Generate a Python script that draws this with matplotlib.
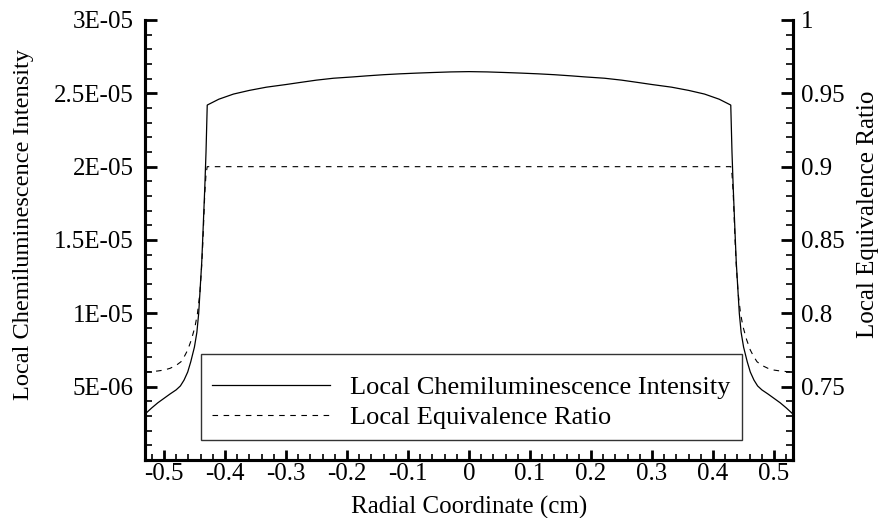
import matplotlib
matplotlib.use("Agg")
import matplotlib.pyplot as plt
from matplotlib.ticker import MultipleLocator, FixedLocator

plt.rcParams['font.family'] = ['Liberation Serif', 'DejaVu Serif']

# Radial coordinate (cm) and local chemiluminescence intensity
r_int = [-0.531, -0.520, -0.510, -0.500, -0.490, -0.480, -0.473, -0.467, -0.461, -0.456,
         -0.450, -0.446, -0.443, -0.441, -0.438, -0.436, -0.433, -0.431, -0.429,
         -0.410, -0.386, -0.360, -0.332, -0.300, -0.277, -0.250, -0.222, -0.190, -0.168,
         -0.140, -0.113, -0.085, -0.059, -0.030, 0.0,
         0.030, 0.059, 0.085, 0.113, 0.140, 0.168, 0.190, 0.222, 0.250, 0.277,
         0.300, 0.332, 0.360, 0.386, 0.410,
         0.429, 0.431, 0.433, 0.436, 0.438, 0.441, 0.443, 0.446, 0.450,
         0.456, 0.461, 0.467, 0.473, 0.480, 0.490, 0.500, 0.510, 0.520, 0.531]
intensity = [3.13e-6, 3.55e-6, 3.90e-6, 4.20e-6, 4.50e-6, 4.78e-6, 5.05e-6, 5.45e-6, 6.00e-6, 6.70e-6,
             7.70e-6, 8.70e-6, 1.00e-5, 1.14e-5, 1.35e-5, 1.55e-5, 1.86e-5, 2.10e-5, 2.42e-5,
             2.460e-5, 2.495e-5, 2.520e-5, 2.542e-5, 2.560e-5, 2.574e-5, 2.590e-5, 2.603e-5, 2.612e-5, 2.619e-5,
             2.627e-5, 2.633e-5, 2.638e-5, 2.642e-5, 2.646e-5, 2.648e-5,
             2.646e-5, 2.642e-5, 2.638e-5, 2.633e-5, 2.627e-5, 2.619e-5, 2.612e-5, 2.603e-5, 2.590e-5, 2.574e-5,
             2.560e-5, 2.542e-5, 2.520e-5, 2.495e-5, 2.460e-5,
             2.42e-5, 2.10e-5, 1.86e-5, 1.55e-5, 1.35e-5, 1.14e-5, 1.00e-5, 8.70e-6, 7.70e-6,
             6.70e-6, 6.00e-6, 5.45e-6, 5.05e-6, 4.78e-6, 4.50e-6, 4.20e-6, 3.90e-6, 3.55e-6, 3.13e-6]

# Radial coordinate (cm) and local equivalence ratio
r_phi = [-0.531, -0.520, -0.510, -0.500, -0.490, -0.480, -0.472, -0.466, -0.461, -0.455,
         -0.449, -0.445, -0.441, -0.438, -0.436, -0.433, -0.431, -0.429,
         0.429, 0.431, 0.433, 0.436, 0.438, 0.441, 0.445, 0.449,
         0.455, 0.461, 0.466, 0.472, 0.480, 0.490, 0.500, 0.510, 0.520, 0.531]
phi = [0.7600, 0.7603, 0.7607, 0.7613, 0.7625, 0.7645, 0.7670, 0.7710, 0.7750, 0.7820,
       0.7910, 0.8000, 0.8140, 0.8330, 0.8500, 0.8820, 0.8950, 0.9000,
       0.9000, 0.8950, 0.8820, 0.8500, 0.8330, 0.8140, 0.8000, 0.7910,
       0.7820, 0.7750, 0.7710, 0.7670, 0.7645, 0.7625, 0.7613, 0.7607, 0.7603, 0.7600]

x_ticks = [-0.5, -0.4, -0.3, -0.2, -0.1, 0, 0.1, 0.2, 0.3, 0.4, 0.5]
x_tick_labels = ["-0.5", "-0.4", "-0.3", "-0.2", "-0.1", "0", "0.1", "0.2", "0.3", "0.4", "0.5"]
yl_ticks = [5e-6, 1e-5, 1.5e-5, 2e-5, 2.5e-5, 3e-5]
yl_tick_labels = ["5E-06", "1E-05", "1.5E-05", "2E-05", "2.5E-05", "3E-05"]
yr_ticks = [0.75, 0.8, 0.85, 0.9, 0.95, 1.0]
yr_tick_labels = ["0.75", "0.8", "0.85", "0.9", "0.95", "1"]

fig = plt.figure(figsize=(8.83, 5.18), dpi=100)
ax = fig.add_axes([145/883, 1-460/518, (793-145)/883, 440/518])
ax2 = ax.twinx()

l1, = ax.plot(r_int, intensity, color='black', lw=0.9, label='Local Chemiluminescence Intensity')
l2, = ax2.plot(r_phi, phi, color='black', lw=0.8, linestyle=(0, (5, 5)), label='Local Equivalence Ratio')

ax.set_xlim(-0.531, 0.531)
ax.set_ylim(0, 3e-5)
ax2.set_ylim(0.7, 1.0)

for a in (ax, ax2):
    a.spines['top'].set_visible(False)
    for s in ('left', 'right', 'bottom'):
        a.spines[s].set_linewidth(2.2)

ax.xaxis.set_major_locator(FixedLocator(x_ticks))
ax.set_xticklabels(x_tick_labels)
ax.xaxis.set_minor_locator(MultipleLocator(0.02))
ax.yaxis.set_major_locator(FixedLocator(yl_ticks))
ax.set_yticklabels(yl_tick_labels)
ax.yaxis.set_minor_locator(MultipleLocator(1e-6))
ax2.yaxis.set_major_locator(FixedLocator(yr_ticks))
ax2.set_yticklabels(yr_tick_labels)
ax2.yaxis.set_minor_locator(MultipleLocator(0.01))

ax.tick_params(axis='both', which='major', direction='in', length=8.5, width=2.0, labelsize=18)
ax.tick_params(axis='both', which='minor', direction='in', length=5, width=1.2)
ax.tick_params(axis='x', which='major', pad=2, length=7)
ax.tick_params(axis='x', which='minor', length=4)
ax.tick_params(axis='y', which='major', pad=8)
ax2.tick_params(axis='y', which='major', direction='in', length=8.5, width=2.0, labelsize=18, pad=6)
ax2.tick_params(axis='y', which='minor', direction='in', length=5, width=1.2)

ax.set_xlabel('Radial Coordinate (cm)', fontsize=18, va='center')
ax.xaxis.set_label_coords(0.5, -0.108)
ax.set_ylabel('Local Chemiluminescence Intensity', fontsize=17.6, va='center')
ax.yaxis.set_label_coords(-0.188, 0.536)
ax2.set_ylabel('Local Equivalence Ratio', fontsize=18, va='center', rotation=90)
ax2.yaxis.set_label_coords(1.1157, 0.559)

leg = ax2.legend(handles=[l1, l2], loc='lower left', bbox_to_anchor=(0.0864, 0.0455),
                 fontsize=19, frameon=True, fancybox=False, handlelength=4.47,
                 handletextpad=0.76, labelspacing=0.25, borderpad=0.42, borderaxespad=0,
                 title=' ', title_fontsize=3.5)
leg.get_frame().set_edgecolor('black')
leg.get_frame().set_linewidth(1.0)

fig.savefig('out.png', dpi=100)
